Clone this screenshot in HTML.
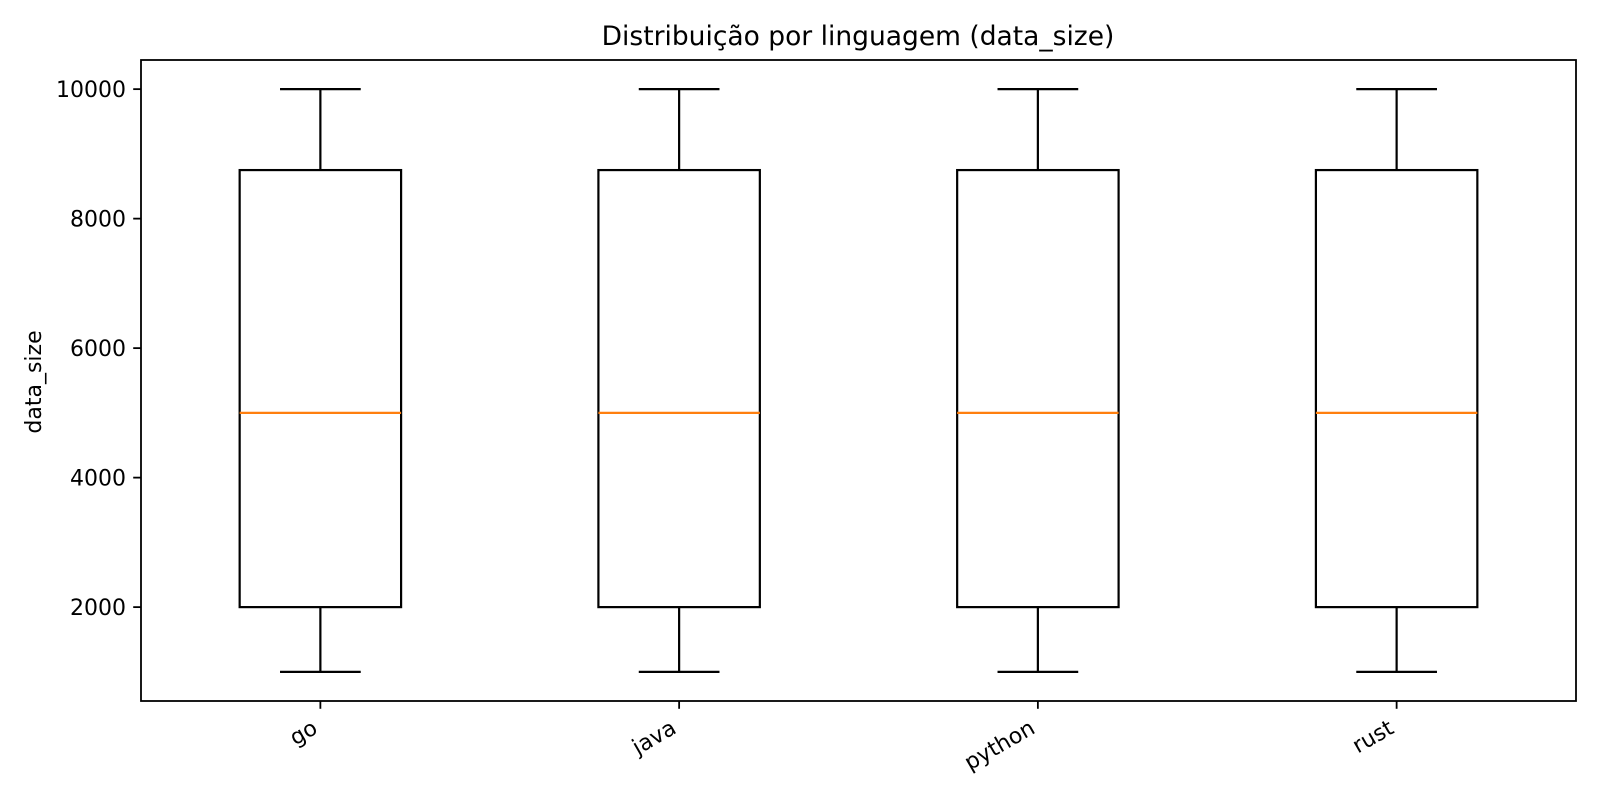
<!DOCTYPE html>
<html><head><meta charset="utf-8"><style>
body{margin:0;background:#fff}
svg{display:block;font-family:"DejaVu Sans","Liberation Sans",sans-serif}
</style></head><body>
<svg id="chart" width="1600" height="800" viewBox="0 0 1600 800">
<rect width="1600" height="800" fill="#fff"/>
<text x="858" y="45" font-size="26.5" text-anchor="middle" fill="#000">Distribuição por linguagem (data_size)</text>
<text transform="translate(41,382) rotate(-90)" font-size="22" text-anchor="middle" fill="#000">data_size</text>
<g id="plot"></g>
</svg>
<script>
const categories = ["go","java","python","rust"];
const whiskerLow = [1000,1000,1000,1000];
const q1 = [2000,2000,2000,2000];
const medians = [5000,5000,5000,5000];
const q3 = [8750,8750,8750,8750];
const whiskerHigh = [10000,10000,10000,10000];
const yTicks = [2000,4000,6000,8000,10000];

const L=141,R=1576,T=60,B=701;
const yMin=550,yMax=10450;
function y(v){return B-(v-yMin)/(yMax-yMin)*(B-T);}
function x(i){return L+(i+0.5)/categories.length*(R-L);}
const unit=(R-L)/categories.length;
const NS="http://www.w3.org/2000/svg";
const g=document.getElementById('plot');
function mk(tag,attrs,parent){const e=document.createElementNS(NS,tag);for(const k in attrs)e.setAttribute(k,attrs[k]);(parent||g).appendChild(e);return e;}

categories.forEach((c,i)=>{
  const cx=x(i), hw=unit*0.225, cw=unit*0.1125;
  const grp=mk('g',{});
  
  
  const w1=mk('line',{x1:cx,y1:y(whiskerLow[i]),x2:cx,y2:y(q1[i]),stroke:'#000','stroke-width':2.2},grp);
  
  
  const w2=mk('line',{x1:cx,y1:y(q3[i]),x2:cx,y2:y(whiskerHigh[i]),stroke:'#000','stroke-width':2.2},grp);
  
  
  const c1=mk('line',{x1:cx-cw,y1:y(whiskerLow[i]),x2:cx+cw,y2:y(whiskerLow[i]),stroke:'#000','stroke-width':2.2},grp);
  
  
  const c2=mk('line',{x1:cx-cw,y1:y(whiskerHigh[i]),x2:cx+cw,y2:y(whiskerHigh[i]),stroke:'#000','stroke-width':2.2},grp);
  
  
  const b=mk('rect',{x:cx-hw,y:y(q3[i]),width:2*hw,height:y(q1[i])-y(q3[i]),fill:'none',stroke:'#000','stroke-width':2.2},grp);
  
  
  const m=mk('line',{x1:cx-hw,y1:y(medians[i]),x2:cx+hw,y2:y(medians[i]),stroke:'#ff7f0e','stroke-width':2.2},grp);
  
  
  const t=mk('line',{x1:cx,y1:B,x2:cx,y2:B+7.8,stroke:'#000','stroke-width':1.8});
  
  
  const lb=mk('text',{transform:`translate(${cx-9},${B+18}) rotate(-30)`,'font-size':22,'text-anchor':'end','dominant-baseline':'hanging',fill:'#000'});
  lb.textContent=c;
  
  
});
yTicks.forEach(v=>{
  const t=mk('line',{x1:L-7.8,y1:y(v),x2:L,y2:y(v),stroke:'#000','stroke-width':1.8});
  
  
  const lb=mk('text',{x:L-15,y:y(v)+8,'font-size':22,'text-anchor':'end',fill:'#000'});
  lb.textContent=v;
  
  
});
const frame=mk('rect',{x:L,y:T,width:R-L,height:B-T,fill:'none',stroke:'#000','stroke-width':1.8});


</script>
</body></html>
